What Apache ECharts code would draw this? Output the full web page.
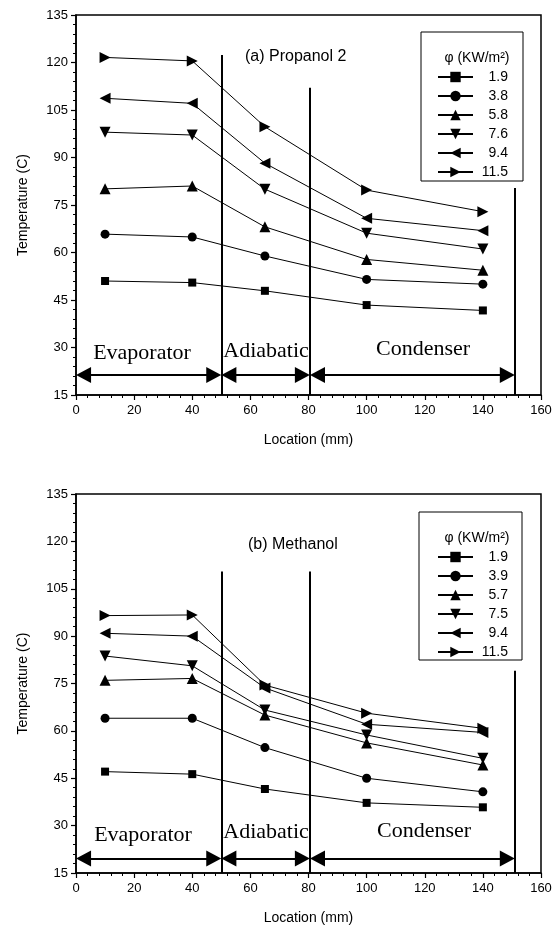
<!DOCTYPE html>
<html>
<head>
<meta charset="utf-8">
<script src="https://cdn.jsdelivr.net/npm/echarts@6/dist/echarts.min.js"></script>
<style>
  html, body { margin: 0; padding: 0; background: #fff; }
  #main { width: 558px; height: 931px; }
</style>
</head>
<body>
<div id="main"></div>
<script>
// thermocouple positions (mm)
var location_mm = [10, 40, 65, 100, 140];

// (a) Propanol 2
var fluxA = ['1.9', '3.8', '5.8', '7.6', '9.4', '11.5'];
var propA_19  = [51.0, 50.5, 47.9, 43.4, 41.7];
var propA_38  = [65.8, 64.9, 58.9, 51.5, 50.0];
var propA_58  = [80.1, 81.0, 68.1, 57.8, 54.4];
var propA_76  = [98.0, 97.1, 80.0, 66.1, 61.1];
var propA_94  = [108.7, 107.1, 88.2, 70.8, 66.9];
var propA_115 = [121.6, 120.5, 99.7, 79.7, 72.9];

// (b) Methanol
var fluxB = ['1.9', '3.9', '5.7', '7.5', '9.4', '11.5'];
var methB_19  = [47.1, 46.3, 41.6, 37.2, 35.8];
var methB_39  = [64.0, 64.0, 54.7, 45.0, 40.7];
var methB_57  = [76.0, 76.6, 65.0, 56.2, 49.2];
var methB_75  = [83.7, 80.6, 66.6, 58.7, 51.3];
var methB_94  = [90.9, 90.0, 73.6, 62.1, 59.5];
var methB_115 = [96.5, 96.7, 74.5, 65.6, 60.8];

// section boundaries: [x, top of line]
var bordersA = [[50, 122.4], [80.5, 112], [151, 80.4]];
var bordersB = [[50, 110.5], [80.5, 110.5], [151, 79]];
// arrows under the section names: [from, to]
var sections = [[0, 50], [50, 80.5], [80.5, 151]];
var arrowYA = 21.3;
var arrowYB = 19.6;
var headInset = 2.6; // half an arrow head, in mm, so the tip lands on the boundary

var SANS = 'Liberation Sans';
var SERIF = 'Liberation Serif';

// marker for each flux level: [symbol, rotate, size]
var markers = [
    ['rect', 0, 8],
    ['circle', 0, 9],
    ['triangle', 0, 11],
    ['triangle', 180, 11],
    ['triangle', 90, 11],
    ['triangle', -90, 11]
];

function pairs(ys) {
    var out = [];
    for (var i = 0; i < location_mm.length; i++) out.push([location_mm[i], ys[i]]);
    return out;
}

function extraLines(borders, arrowY) {
    var d = [];
    for (var i = 0; i < borders.length; i++) {
        d.push([{coord: [borders[i][0], 15], symbol: 'none'},
                {coord: [borders[i][0], borders[i][1]], symbol: 'none'}]);
    }
    for (var j = 0; j < sections.length; j++) {
        d.push([{coord: [sections[j][0] + headInset, arrowY]},
                {coord: [sections[j][1] - headInset, arrowY]}]);
    }
    return d;
}

function makeSeries(names, sets, idx, borders, arrowY) {
    var list = [];
    for (var i = 0; i < names.length; i++) {
        var s = {
            name: names[i],
            type: 'line',
            xAxisIndex: idx,
            yAxisIndex: idx,
            data: pairs(sets[i]),
            symbol: markers[i][0],
            symbolRotate: markers[i][1],
            symbolSize: markers[i][2],
            showAllSymbol: true,
            lineStyle: {color: '#000', width: 1},
            itemStyle: {color: '#000'},
            emphasis: {disabled: true},
            z: 3
        };
        if (i == 0) {
            s.markLine = {
                silent: true,
                symbol: ['triangle', 'triangle'],
                symbolSize: [16, 15],
                label: {show: false},
                lineStyle: {color: '#000', width: 2, type: 'solid'},
                data: extraLines(borders, arrowY)
            };
        }
        list.push(s);
    }
    return list;
}

function xAx(idx) {
    return {
        type: 'value', gridIndex: idx, min: 0, max: 160, interval: 20,
        name: 'Location (mm)', nameLocation: 'middle', nameGap: 38,
        nameTextStyle: {fontFamily: SANS, fontSize: 14, color: '#000'},
        axisLine: {show: true, onZero: false, lineStyle: {color: '#000', width: 1.5}},
        axisTick: {show: true, length: 5, lineStyle: {color: '#000', width: 1.2}},
        minorTick: {show: true, splitNumber: 5, length: 3, lineStyle: {color: '#000', width: 1}},
        axisLabel: {fontFamily: SANS, fontSize: 13, color: '#000', margin: 9},
        splitLine: {show: false}
    };
}

function yAx(idx) {
    return {
        type: 'value', gridIndex: idx, min: 15, max: 135, interval: 15,
        name: 'Temperature (C)', nameLocation: 'middle', nameGap: 46,
        nameTextStyle: {fontFamily: SANS, fontSize: 14, color: '#000'},
        axisLine: {show: true, onZero: false, lineStyle: {color: '#000', width: 1.5}},
        axisTick: {show: true, length: 5, lineStyle: {color: '#000', width: 1.2}},
        minorTick: {show: true, splitNumber: 5, length: 3, lineStyle: {color: '#000', width: 1}},
        axisLabel: {fontFamily: SANS, fontSize: 13, color: '#000', margin: 8},
        splitLine: {show: false}
    };
}

function legendFor(names, top) {
    return {
        data: names, orient: 'vertical', left: 437, top: top,
        padding: 0, itemGap: 5, itemWidth: 35, itemHeight: 13,
        selectedMode: false,
        formatter: function (n) { return '{v|' + n + '}'; },
        textStyle: {
            fontFamily: SANS, fontSize: 14, color: '#000',
            rich: {v: {width: 30, align: 'right', lineHeight: 14, fontFamily: SANS, fontSize: 14, color: '#000'}}
        }
    };
}

function txt(x, y, s, font, size, align) {
    return {
        type: 'text', x: x, y: y, silent: true,
        style: {text: s, font: size + 'px "' + font + '"', fill: '#000',
                textAlign: align || 'center', textVerticalAlign: 'middle'}
    };
}

function legendBox(x, y, w, h) {
    return {type: 'rect', shape: {x: x, y: y, width: w, height: h}, silent: true,
            style: {fill: 'none', stroke: '#000', lineWidth: 1}};
}

var myChart = echarts.init(document.getElementById('main'));

var option = {
    animation: false,
    backgroundColor: '#fff',
    grid: [
        {left: 76, top: 15, width: 465, height: 380, show: true, borderColor: '#000', borderWidth: 1.5, backgroundColor: 'transparent'},
        {left: 76, top: 494, width: 465, height: 379, show: true, borderColor: '#000', borderWidth: 1.5, backgroundColor: 'transparent'}
    ],
    xAxis: [xAx(0), xAx(1)],
    yAxis: [yAx(0), yAx(1)],
    legend: [legendFor(fluxA, 70), legendFor(fluxB, 550)],
    graphic: [
        legendBox(421, 32, 102, 149),
        legendBox(419, 512, 103, 148),
        txt(477, 58, 'φ (KW/m²)', SANS, 14),
        txt(477, 538, 'φ (KW/m²)', SANS, 14),
        txt(245, 57, '(a) Propanol 2', SANS, 16, 'left'),
        txt(248, 545, '(b) Methanol', SANS, 16, 'left'),
        txt(142, 353, 'Evaporator', SERIF, 22),
        txt(266, 351, 'Adiabatic', SERIF, 22),
        txt(423, 349, 'Condenser', SERIF, 22),
        txt(143, 835, 'Evaporator', SERIF, 22),
        txt(266, 832, 'Adiabatic', SERIF, 22),
        txt(424, 831, 'Condenser', SERIF, 22)
    ],
    series: makeSeries(fluxA, [propA_19, propA_38, propA_58, propA_76, propA_94, propA_115], 0, bordersA, arrowYA)
        .concat(makeSeries(fluxB, [methB_19, methB_39, methB_57, methB_75, methB_94, methB_115], 1, bordersB, arrowYB))
};

myChart.setOption(option);
</script>
</body>
</html>
